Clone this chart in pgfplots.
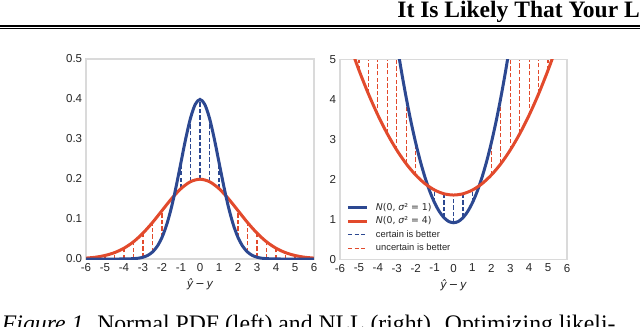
\documentclass[border=0pt]{standalone}
\usepackage{fontspec}
\setmainfont{Liberation Serif}
\newfontfamily\arial{Liberation Sans}
\newfontfamily\dvs{DejaVu Sans}
\usepackage{pgfplots}
\pgfplotsset{compat=1.18}

\definecolor{nblue}{RGB}{44,72,145}
\definecolor{nred}{RGB}{226,74,44}
\definecolor{framegray}{RGB}{218,218,218}

\pgfplotsset{
  nstyle/.style={
    scale only axis, width=114bp, height=100bp,
    axis line style={draw=framegray, line width=0.9bp},
    xmin=-6, xmax=6, xtick={-6,-5,...,6},
    xticklabels={-6,-5,-4,-3,-2,-1,0,1,2,3,4,5,6},
    major tick length=0pt,
    tick label style={font=\arial\fontsize{5.8}{7}\selectfont, text=black!85},
    xticklabel style={yshift=1.3bp},
    yticklabel style={xshift=1.6bp},
    xlabel={\dvs{\itshape ŷ}\,−\,{\itshape y}},
    xlabel style={font=\fontsize{5.6}{6.5}\selectfont, text=black!85, yshift=3.2bp},
    unbounded coords=jump,
  },
  dl/.style={line width=0.6bp, dash pattern=on 2.2bp off 1.1bp},
  cl/.style={line width=1.5bp, smooth},
}

\begin{document}
\begin{tikzpicture}
\useasboundingbox (0,0) rectangle (320bp,-163.5bp);

% running head
\node[anchor=base west, inner sep=0pt] at (198.5bp,-8.5bp)
  {\fontsize{11.8}{14}\selectfont\bfseries It Is Likely That Your Loss Should be a Likelihood};
\draw[line width=1bp] (0,-13bp) -- (320bp,-13bp);
\draw[line width=0.35bp] (0,-14.2bp) -- (320bp,-14.2bp);

% caption
\node[anchor=base west, inner sep=0pt] at (0.8bp,-165.5bp)
  {\fontsize{11.9}{14}\selectfont\textit{Figure 1.} Normal PDF (left) and NLL (right). Optimizing likeli-};

% left: PDF
\begin{axis}[nstyle, at={(43bp,-129.5bp)}, anchor=south west,
  ymin=0, ymax=0.5, ytick={0,0.1,0.2,0.3,0.4,0.5},
  yticklabels={0.0,0.1,0.2,0.3,0.4,0.5}]
\addplot[nblue, dl, forget plot] coordinates {
  (-1,0.1760) (-1,0.2420) (-1,nan)
  (-0.5,0.1933) (-0.5,0.3521) (-0.5,nan)
  (0,0.1995) (0,0.3989) (0,nan)
  (0.5,0.1933) (0.5,0.3521) (0.5,nan)
  (1,0.1760) (1,0.2420)
};
\addplot[nred, dl, forget plot] coordinates {
  (-5,0.0000) (-5,0.0088) (-5,nan)
  (-4.5,0.0000) (-4.5,0.0159) (-4.5,nan)
  (-4,0.0001) (-4,0.0270) (-4,nan)
  (-3.5,0.0009) (-3.5,0.0431) (-3.5,nan)
  (-3,0.0044) (-3,0.0648) (-3,nan)
  (-2.5,0.0175) (-2.5,0.0913) (-2.5,nan)
  (-2,0.0540) (-2,0.1210) (-2,nan)
  (2,0.0540) (2,0.1210) (2,nan)
  (2.5,0.0175) (2.5,0.0913) (2.5,nan)
  (3,0.0044) (3,0.0648) (3,nan)
  (3.5,0.0009) (3.5,0.0431) (3.5,nan)
  (4,0.0001) (4,0.0270) (4,nan)
  (4.5,0.0000) (4.5,0.0159) (4.5,nan)
  (5,0.0000) (5,0.0088)
};
\addplot[nred, cl, forget plot] coordinates {
  (-6,0.0022) (-5.5,0.0045) (-5,0.0088) (-4.5,0.0159) (-4,0.0270)
  (-3.5,0.0431) (-3,0.0648) (-2.5,0.0913) (-2,0.1210) (-1.5,0.1506)
  (-1,0.1760) (-0.5,0.1933) (0,0.1995) (0.5,0.1933) (1,0.1760)
  (1.5,0.1506) (2,0.1210) (2.5,0.0913) (3,0.0648) (3.5,0.0431)
  (4,0.0270) (4.5,0.0159) (5,0.0088) (5.5,0.0045) (6,0.0022)
};
\addplot[nblue, cl, forget plot] coordinates {
  (-6,0.0000) (-5,0.0000) (-4.5,0.0000) (-4,0.0001) (-3.5,0.0009)
  (-3.25,0.0020) (-3,0.0044) (-2.75,0.0091) (-2.5,0.0175) (-2.25,0.0317)
  (-2,0.0540) (-1.75,0.0863) (-1.5,0.1295) (-1.25,0.1826) (-1,0.2420)
  (-0.75,0.3011) (-0.5,0.3521) (-0.25,0.3867) (0,0.3989) (0.25,0.3867)
  (0.5,0.3521) (0.75,0.3011) (1,0.2420) (1.25,0.1826) (1.5,0.1295)
  (1.75,0.0863) (2,0.0540) (2.25,0.0317) (2.5,0.0175) (2.75,0.0091)
  (3,0.0044) (3.25,0.0020) (3.5,0.0009) (4,0.0001) (4.5,0.0000)
  (5,0.0000) (6,0.0000)
};
\end{axis}

% right: NLL
\begin{axis}[nstyle, at={(170bp,-129.75bp)}, anchor=south west, width=113.5bp,
  ymin=0, ymax=5, ytick={0,1,2,3,4,5}, yticklabels={0,1,2,3,4,5},
  legend cell align=left,
  legend image code/.code={\draw[#1] (0bp,0bp) -- (9.5bp,0bp);},
  legend style={at={(0.026,0.028)}, anchor=south west, draw=none, fill=none,
    inner sep=0pt, row sep=1.55bp,
    font=\arial\fontsize{4.7}{5.5}\selectfont, text=black!85,
    nodes={inner sep=0.5bp, text height=3.3bp, text depth=0.9bp},
    /tikz/every odd column/.append style={column sep=3.3bp}}]
\addplot[nblue, dl, forget plot] coordinates {
  (-1,1.419) (-1,1.737) (-1,nan)
  (-0.5,1.044) (-0.5,1.643) (-0.5,nan)
  (0,0.919) (0,1.612) (0,nan)
  (0.5,1.044) (0.5,1.643) (0.5,nan)
  (1,1.419) (1,1.737)
};
\addplot[nred, dl, forget plot] coordinates {
  (-5,4.737) (-5,5) (-5,nan)
  (-4.5,4.143) (-4.5,5) (-4.5,nan)
  (-4,3.612) (-4,5) (-4,nan)
  (-3.5,3.143) (-3.5,5) (-3.5,nan)
  (-3,2.737) (-3,5) (-3,nan)
  (-2.5,2.393) (-2.5,4.044) (-2.5,nan)
  (-2,2.112) (-2,2.919) (-2,nan)
  (2,2.112) (2,2.919) (2,nan)
  (2.5,2.393) (2.5,4.044) (2.5,nan)
  (3,2.737) (3,5) (3,nan)
  (3.5,3.143) (3.5,5) (3.5,nan)
  (4,3.612) (4,5) (4,nan)
  (4.5,4.143) (4.5,5) (4.5,nan)
  (5,4.737) (5,5)
};
\addplot[nblue, cl] coordinates {
  (-3.25,6.200) (-3,5.419) (-2.75,4.700) (-2.5,4.044) (-2.25,3.450)
  (-2,2.919) (-1.75,2.450) (-1.5,2.044) (-1.25,1.700) (-1,1.419)
  (-0.75,1.200) (-0.5,1.044) (-0.25,0.950) (0,0.919) (0.25,0.950)
  (0.5,1.044) (0.75,1.200) (1,1.419) (1.25,1.700) (1.5,2.044)
  (1.75,2.450) (2,2.919) (2.25,3.450) (2.5,4.044) (2.75,4.700)
  (3,5.419) (3.25,6.200)
};
\addlegendentry{\dvs{\itshape N}(0, {\itshape σ}² = 1)}
\addplot[nred, cl] coordinates {
  (-6,6.112) (-5.5,5.393) (-5,4.737) (-4.5,4.143) (-4,3.612)
  (-3.5,3.143) (-3,2.737) (-2.5,2.393) (-2,2.112) (-1.5,1.893)
  (-1,1.737) (-0.5,1.643) (0,1.612) (0.5,1.643) (1,1.737)
  (1.5,1.893) (2,2.112) (2.5,2.393) (3,2.737) (3.5,3.143)
  (4,3.612) (4.5,4.143) (5,4.737) (5.5,5.393) (6,6.112)
};
\addlegendentry{\dvs{\itshape N}(0, {\itshape σ}² = 4)}
\addlegendimage{nblue, line width=0.6bp, dash pattern=on 2bp off 1.4bp}
\addlegendentry{certain is better}
\addlegendimage{nred, line width=0.6bp, dash pattern=on 2bp off 1.4bp}
\addlegendentry{uncertain is better}
\end{axis}
\end{tikzpicture}
\end{document}
